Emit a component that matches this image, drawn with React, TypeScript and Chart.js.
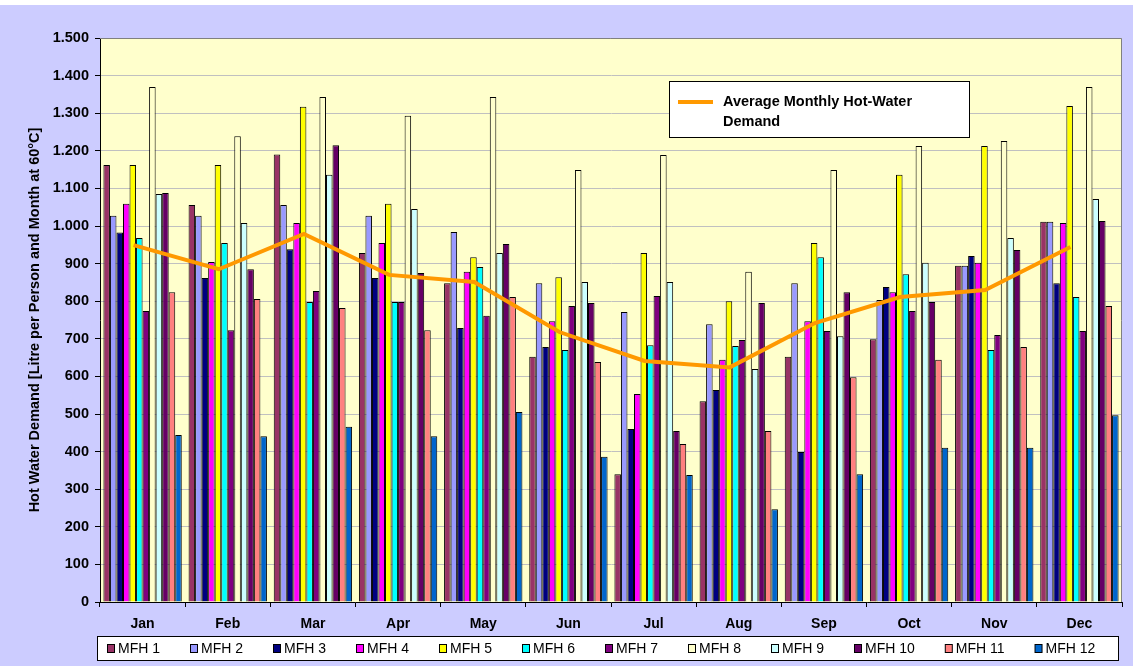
import React, { useEffect, useRef } from "react";
import { Chart, registerables } from "chart.js";

Chart.register(...registerables);

const months = ["Jan", "Feb", "Mar", "Apr", "May", "Jun", "Jul", "Aug", "Sep", "Oct", "Nov", "Dec"];

const mfh1 = [1162, 1056, 1190, 928, 848, 652, 340, 534, 652, 699, 894, 1011];
const mfh2 = [1027, 1027, 1056, 1027, 984, 848, 771, 739, 848, 803, 894, 1011];
const mfh3 = [983, 862, 938, 862, 729, 678, 460, 564, 399, 838, 920, 848];
const mfh4 = [1059, 904, 1008, 955, 878, 747, 553, 644, 747, 824, 902, 1008];
const mfh5 = [1162, 1162, 1317, 1059, 917, 864, 928, 800, 955, 1136, 1213, 1319];
const mfh6 = [968, 955, 798, 798, 891, 670, 683, 681, 917, 872, 670, 811];
const mfh7 = [774, 723, 827, 798, 761, 787, 814, 697, 721, 774, 710, 721];
const mfh8 = [1370, 1239, 1343, 1293, 1343, 1149, 1189, 878, 1149, 1213, 1226, 1370];
const mfh9 = [1085, 1008, 1136, 1045, 928, 851, 851, 620, 707, 902, 968, 1072];
const mfh10 = [1088, 885, 1215, 875, 952, 795, 455, 795, 824, 798, 936, 1013];
const mfh11 = [824, 806, 782, 723, 811, 638, 420, 455, 598, 644, 678, 787];
const mfh12 = [444, 441, 466, 441, 505, 386, 338, 247, 340, 410, 410, 497];
const average = [949, 885, 979, 870, 851, 718, 641, 624, 742, 811, 830, 944];

const seriesNames = ["MFH 1", "MFH 2", "MFH 3", "MFH 4", "MFH 5", "MFH 6", "MFH 7", "MFH 8", "MFH 9", "MFH 10", "MFH 11", "MFH 12"];
const seriesData = [mfh1, mfh2, mfh3, mfh4, mfh5, mfh6, mfh7, mfh8, mfh9, mfh10, mfh11, mfh12];
const seriesColors = ["#993366", "#9999FF", "#000080", "#FF00FF", "#FFFF00", "#00FFFF", "#800080", "#FFFFCC", "#CCFFFF", "#660066", "#FF8080", "#0066CC"];
const averageLabel = ["Average Monthly Hot-Water", "Demand"];

const yTicks = [0, 100, 200, 300, 400, 500, 600, 700, 800, 900, 1000, 1100, 1200, 1300, 1400, 1500];

const FONT = "'Liberation Sans', Arial, sans-serif";

function fmt(v: number): string {
  if (v >= 1000) {
    const th = Math.floor(v / 1000);
    const rest = String(v % 1000).padStart(3, "0");
    return th + "." + rest;
  }
  return String(v);
}

const decorPlugin = {
  id: "decor",
  beforeDraw(chart: any) {
    const { ctx, chartArea } = chart;
    ctx.save();
    ctx.fillStyle = "#FFFFFF";
    ctx.fillRect(0, 0, chart.width, chart.height);
    ctx.fillStyle = "#CCCCFF";
    ctx.fillRect(0, 5, chart.width, chart.height - 5);
    ctx.fillStyle = "#FFFFCC";
    ctx.fillRect(chartArea.left, chartArea.top, chartArea.right - chartArea.left, chartArea.bottom - chartArea.top);
    ctx.restore();
  },
  beforeDatasetDraw(chart: any, args: any) {
    if (args.index === 0) {
      chart.ctx.save();
      chart.ctx.translate(-9, 0);
    }
  },
  afterDatasetDraw(chart: any, args: any) {
    if (args.index === 0) {
      chart.ctx.restore();
    }
  },
  afterDraw(chart: any) {
    const { ctx, chartArea } = chart;
    ctx.save();
    ctx.strokeStyle = "#808080";
    ctx.lineWidth = 1;
    ctx.beginPath();
    ctx.moveTo(chartArea.left, chartArea.top + 0.5);
    ctx.lineTo(chartArea.right - 0.5, chartArea.top + 0.5);
    ctx.lineTo(chartArea.right - 0.5, chartArea.bottom);
    ctx.stroke();

    // line legend box
    const bx = 669.5, by = 81.5, bw = 300, bh = 56;
    ctx.fillStyle = "#FFFFFF";
    ctx.fillRect(bx, by, bw, bh);
    ctx.strokeStyle = "#000000";
    ctx.strokeRect(bx, by, bw, bh);
    ctx.strokeStyle = "#FF9900";
    ctx.lineWidth = 4;
    ctx.beginPath();
    ctx.moveTo(678, 102);
    ctx.lineTo(713, 102);
    ctx.stroke();
    ctx.fillStyle = "#000000";
    ctx.font = "bold 14.5px " + FONT;
    ctx.textBaseline = "middle";
    ctx.textAlign = "left";
    ctx.fillText(averageLabel[0], 723, 102);
    ctx.fillText(averageLabel[1], 723, 122);

    // bottom legend box
    const lx = 97.5, ly = 636.5, lw = 1021, lh = 24;
    ctx.fillStyle = "#FFFFFF";
    ctx.fillRect(lx, ly, lw, lh);
    ctx.strokeStyle = "#000000";
    ctx.lineWidth = 1;
    ctx.strokeRect(lx, ly, lw, lh);
    ctx.font = "14px " + FONT;
    let x = 107;
    for (let i = 0; i < seriesNames.length; i++) {
      ctx.fillStyle = seriesColors[i];
      ctx.fillRect(x + 0.5, 644.5, 7, 8);
      ctx.strokeStyle = "#000000";
      ctx.strokeRect(x + 0.5, 644.5, 7, 8);
      ctx.fillStyle = "#000000";
      ctx.fillText(seriesNames[i], x + 11, 649);
      x += 11 + ctx.measureText(seriesNames[i]).width + 30;
    }
    ctx.restore();
  },
};

export default function App() {
  const ref = useRef<HTMLCanvasElement | null>(null);

  useEffect(() => {
    if (!ref.current) return;
    const datasets: any[] = [
      {
        type: "line",
        label: "Average Monthly Hot-Water Demand",
        data: average,
        borderColor: "#FF9900",
        backgroundColor: "#FF9900",
        borderWidth: 4,
        pointRadius: 0,
        tension: 0,
        order: 0,
      },
    ];
    seriesNames.forEach((name, i) => {
      datasets.push({
        type: "bar",
        label: name,
        data: seriesData[i],
        backgroundColor: seriesColors[i],
        borderColor: "#000000",
        borderWidth: 1,
        categoryPercentage: 0.92,
        barPercentage: 1.0,
        order: 1,
      });
    });

    const chart = new Chart(ref.current, {
      type: "bar",
      data: { labels: months, datasets },
      options: {
        animation: false,
        responsive: false,
        maintainAspectRatio: false,
        layout: { padding: { top: 38, right: 11, bottom: 0, left: 0 } },
        plugins: {
          legend: { display: false },
          tooltip: { enabled: false },
        },
        scales: {
          x: {
            grid: {
              offset: true,
              drawOnChartArea: false,
              drawTicks: true,
              tickLength: 5,
              tickColor: "#000000",
            },
            border: { color: "#000000", width: 1 },
            ticks: {
              color: "#000000",
              font: { family: FONT, size: 14, weight: "bold" },
              padding: 9,
            },
            afterFit: (s: any) => {
              s.height = 64;
            },
          },
          y: {
            min: 0,
            max: 1500,
            afterBuildTicks: (s: any) => {
              s.ticks = yTicks.map((v) => ({ value: v }));
            },
            grid: {
              color: "#C0C0C0",
              tickColor: "#000000",
              tickLength: 5,
              lineWidth: 1,
            },
            border: { color: "#000000", width: 1 },
            ticks: {
              color: "#000000",
              font: { family: FONT, size: 14.5, weight: "bold" },
              padding: 6,
              callback: (v: any) => fmt(Number(v)),
            },
            title: {
              display: true,
              text: "Hot Water Demand [Litre per Person and Month at 60°C]",
              color: "#000000",
              font: { family: FONT, size: 14.5, weight: "bold" },
              padding: { top: 26, bottom: 0 },
            },
            afterFit: (s: any) => {
              s.width = 100;
            },
          },
        },
      },
      plugins: [decorPlugin],
    });
    return () => chart.destroy();
  }, []);

  return (
    <div style={{ position: "fixed", left: 0, top: 0, width: 1133, height: 666 }}>
      <canvas ref={ref} width={1133} height={666} style={{ width: 1133, height: 666, display: "block" }} />
    </div>
  );
}
